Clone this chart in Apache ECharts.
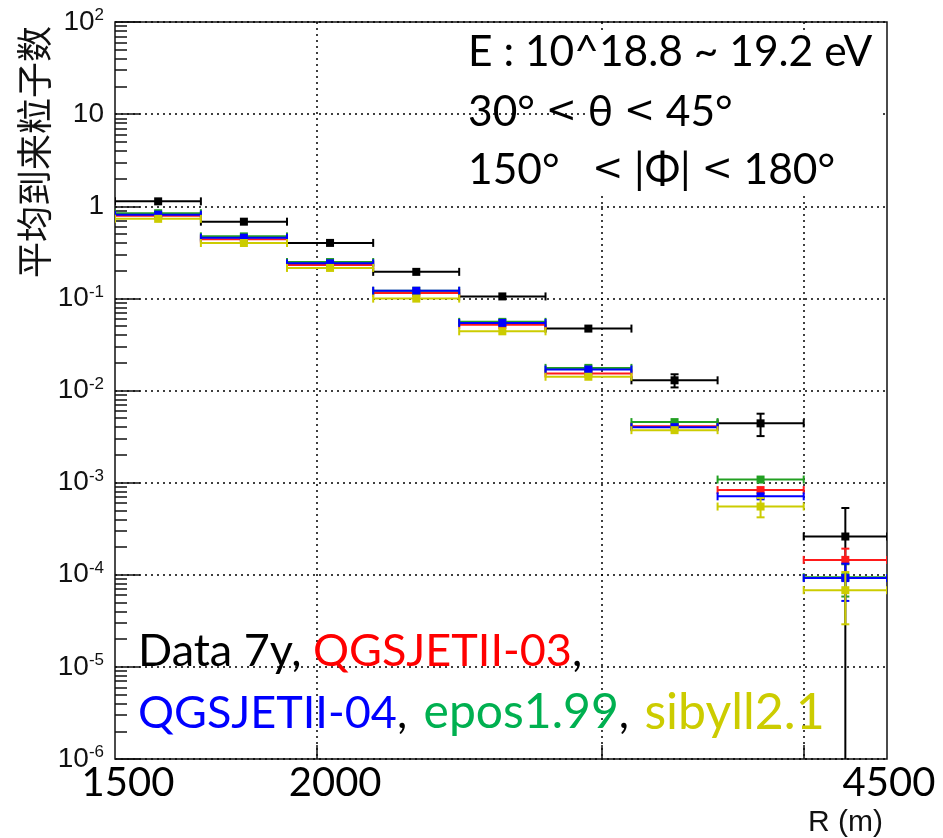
<!DOCTYPE html>
<html><head><meta charset="utf-8">
<script src="https://cdn.jsdelivr.net/npm/echarts@6/dist/echarts.min.js"></script>
<style>html,body{margin:0;padding:0;background:#fff}#c{width:943px;height:838px}</style>
</head><body><div id="c"></div>
<script>
// ---- data ----
const binLow    = [1500, 1695, 1916, 2166, 2448, 2768, 3128, 3536, 3997];
const binHigh   = [1695, 1916, 2166, 2448, 2768, 3128, 3536, 3997, 4500];
const binCenter = [1595, 1802, 2037, 2303, 2603, 2942, 3326, 3759, 4241];

const data7y     = [1.13, 0.68, 0.40, 0.194, 0.105, 0.047, 0.0129, 0.0044, 0.00026];
const data7yErr  = [0.04, 0.02, 0.012, 0.006, 0.004, 0.0025, 0.0021, 0.0012, 0.00027];

const qgs03      = [0.79, 0.437, 0.231, 0.1145, 0.0516, 0.0153, 0.0041, 0.00083, 0.000145];
const qgs03Err   = [0.01, 0.006, 0.004, 0.002, 0.001, 0.0004, 0.0001, 0.00003, 0.000047];
const qgs04      = [0.81, 0.456, 0.240, 0.121, 0.0542, 0.0169, 0.0040, 0.00071, 0.000092];
const qgs04Err   = [0.01, 0.006, 0.004, 0.002, 0.001, 0.0004, 0.0001, 0.00003, 0.00004];
const epos       = [0.84, 0.471, 0.248, 0.121, 0.0556, 0.0176, 0.00454, 0.00108, 0.000094];
const eposErr    = [0.01, 0.006, 0.004, 0.002, 0.001, 0.0004, 0.0001, 0.00003, 0.000036];
const sibyll     = [0.73, 0.399, 0.214, 0.0994, 0.0439, 0.0141, 0.00371, 0.00055, 0.000068];
const sibyllErr  = [0.01, 0.006, 0.004, 0.002, 0.001, 0.0004, 0.0002, 0.00013, 0.000039];

const xTickValues  = [2000, 3000, 4000];
const xLabelValues = [1500, 2000, 4500];
const yMajorTicks  = [1e-6, 1e-5, 1e-4, 1e-3, 1e-2, 1e-1, 1, 10, 100];
const yMinorMult   = [2, 3, 4, 5, 6, 7, 8, 9];

const seriesDefs = [
  {name: 'Data 7y',     color: '#000000', vals: data7y, errs: data7yErr},
  {name: 'QGSJETII-03', color: '#ff1a1a', vals: qgs03,  errs: qgs03Err},
  {name: 'epos1.99',    color: '#22a022', vals: epos,   errs: eposErr},
  {name: 'QGSJETII-04', color: '#0000ff', vals: qgs04,  errs: qgs04Err},
  {name: 'sibyll2.1',   color: '#cccc00', vals: sibyll, errs: sibyllErr}
];

const yMinorTicks = [];
for (let i = 0; i < yMajorTicks.length - 1; i++) {
  yMinorMult.forEach(m => yMinorTicks.push(+(yMajorTicks[i] * m).toPrecision(3)));
}

function renderErr(color) {
  return function (params, api) {
    const xc = api.value(0), y = api.value(1), xl = api.value(2), xh = api.value(3), e = api.value(4);
    const p = api.coord([xc, y]);
    const l = api.coord([xl, y]);
    const h = api.coord([xh, y]);
    const up = api.coord([xc, y + e]);
    const lowV = (y - e) > 0 ? (y - e) : 1e-12;
    const dn = api.coord([xc, lowV]);
    const st = {stroke: color, lineWidth: 2};
    const ch = [];
    const cap = 4, ms = 4;
    ch.push({type: 'line', shape: {x1: l[0], y1: p[1], x2: h[0], y2: p[1]}, style: st});
    ch.push({type: 'line', shape: {x1: l[0], y1: p[1] - cap, x2: l[0], y2: p[1] + cap}, style: st});
    ch.push({type: 'line', shape: {x1: h[0], y1: p[1] - cap, x2: h[0], y2: p[1] + cap}, style: st});
    if (p[1] - up[1] > ms + 1) {
      ch.push({type: 'line', shape: {x1: p[0], y1: p[1], x2: p[0], y2: up[1]}, style: st});
      ch.push({type: 'line', shape: {x1: p[0] - cap, y1: up[1], x2: p[0] + cap, y2: up[1]}, style: st});
    }
    if (dn[1] - p[1] > ms + 1) {
      ch.push({type: 'line', shape: {x1: p[0], y1: p[1], x2: p[0], y2: dn[1]}, style: st});
      if (y - e > 0) ch.push({type: 'line', shape: {x1: p[0] - cap, y1: dn[1], x2: p[0] + cap, y2: dn[1]}, style: st});
    }
    ch.push({type: 'rect', shape: {x: p[0] - ms, y: p[1] - ms, width: 2 * ms, height: 2 * ms}, style: {fill: color}});
    return {type: 'group', children: ch};
  };
}

const series = seriesDefs.map(d => ({
  type: 'custom',
  name: d.name,
  clip: true,
  renderItem: renderErr(d.color),
  dimensions: ['x', 'y', 'xl', 'xh', 'e'],
  encode: {x: 0, y: 1},
  data: binCenter.map((c, i) => [c, d.vals[i], binLow[i], binHigh[i], d.errs[i]]),
  z: 5
}));

const xPad = {1500: 26, 2000: 36, 4500: 4};
const ann = {fontFamily: 'Lato', fontSize: 42.5, lineHeight: 50, fill: '#000'};
const lt = {fontFamily: 'DejaVu Sans', fontSize: 37, lineHeight: 50, fill: '#000'};

const chart = echarts.init(document.getElementById('c'), null, {renderer: 'canvas'});
chart.setOption({
  animation: false,
  backgroundColor: '#ffffff',
  grid: {left: 115, top: 22, right: 56, bottom: 78, show: true, borderColor: '#111', borderWidth: 1.5, backgroundColor: 'transparent'},
  xAxis: [{
    type: 'log', logBase: 10, min: 1500, max: 4500,
    axisLine: {show: false},
    axisTick: {show: true, inside: true, length: 14, customValues: xTickValues, lineStyle: {color: '#111', width: 1.5}},
    splitLine: {show: true, customValues: xTickValues, lineStyle: {color: '#000', type: [2, 4], width: 1.5}},
    minorTick: {show: false},
    axisLabel: {
      show: true, customValues: xLabelValues, margin: 4,
      formatter: v => '{p' + Math.round(v) + '|' + Math.round(v) + '}',
      rich: {
        p1500: {fontFamily: 'Lato', fontSize: 40, color: '#000', padding: [0, 0, 0, xPad[1500]]},
        p2000: {fontFamily: 'Lato', fontSize: 40, color: '#000', padding: [0, 0, 0, xPad[2000]]},
        p4500: {fontFamily: 'Lato', fontSize: 40, color: '#000', padding: [0, 0, 0, xPad[4500]]}
      }
    },
    name: 'R (m)', nameLocation: 'end', nameGap: -4,
    nameTextStyle: {fontFamily: 'Liberation Sans Narrow, Liberation Sans', fontSize: 30, color: '#111', align: 'right', verticalAlign: 'top', padding: [49, 0, 0, 0]}
  }],
  yAxis: [{
    type: 'log', logBase: 10, min: 1e-6, max: 100, splitNumber: 8,
    axisLine: {show: false},
    axisTick: {show: true, inside: true, length: 25, lineStyle: {color: '#111', width: 1.5}},
    splitLine: {show: true, lineStyle: {color: '#000', type: [2, 4], width: 1.5}},
    axisLabel: {
      margin: 11, color: '#111', fontFamily: 'Liberation Sans', fontSize: 28,
      formatter: function (v) {
        const e = Math.round(Math.log10(v));
        if (e === 0) return '{b|1}';
        if (e === 1) return '{b|10}';
        return '{b|10}{s|' + e + '}';
      },
      rich: {
        b: {fontFamily: 'Liberation Sans', fontSize: 28, lineHeight: 30, color: '#111'},
        s: {fontFamily: 'Liberation Sans', fontSize: 17, lineHeight: 20, verticalAlign: 'top', color: '#111'}
      }
    }
  }, {
    type: 'log', logBase: 10, min: 1e-6, max: 100, position: 'left',
    axisLine: {show: false},
    axisLabel: {show: false},
    splitLine: {show: false},
    axisTick: {show: true, inside: true, length: 12, customValues: yMinorTicks, lineStyle: {color: '#111', width: 1.5}}
  }],
  series: series,
  graphic: [
    {type: 'rect', z: 3, shape: {x: 589, y: 33, width: 294, height: 162}, style: {fill: '#ffffff'}},
    {type: 'text', z: 10, x: 468, y: 52, style: {text: 'E : 10^18.8 ~ 19.2 eV', fontFamily: 'Lato', fontSize: 42.5, fill: '#000', textVerticalAlign: 'middle'}},
    {type: 'text', z: 10, x: 468, y: 112, style: {
      text: '{a|30° }{l|<}{a| θ }{l|<}{a| 45°}', textVerticalAlign: 'middle',
      rich: {a: ann, l: lt}}},
    {type: 'text', z: 10, x: 468, y: 170, style: {
      text: '{a|150°   }{l|<}{a| |Φ| }{l|<}{a| 180°}', textVerticalAlign: 'middle',
      rich: {a: ann, l: lt}}},
    {type: 'text', z: 10, x: 34, y: 152, rotation: Math.PI / 2,
      style: {text: '平均到来粒子数', fontFamily: 'Noto Sans CJK SC', fontSize: 36, fill: '#111', textAlign: 'center', textVerticalAlign: 'middle'}},
    {type: 'text', z: 10, x: 138, y: 620,
      style: {
        text: '{k|Data 7y, }{r|QGSJETII-03}{k|,}\n{b|QGSJETII-04}{k|, }{g|epos1.99}{k|, }{y|sibyll2.1}',
        fontFamily: 'Lato', fontSize: 45, lineHeight: 62,
        rich: {
          k: {fill: '#000', fontFamily: 'Lato', fontSize: 45, lineHeight: 62},
          r: {fill: '#ff0000', fontFamily: 'Lato', fontSize: 45, lineHeight: 62},
          b: {fill: '#0000ff', fontFamily: 'Lato', fontSize: 45, lineHeight: 62},
          g: {fill: '#00b050', fontFamily: 'Lato', fontSize: 48, lineHeight: 62, padding: [0, 0, 0, 5]},
          y: {fill: '#cccc00', fontFamily: 'Lato', fontSize: 50, lineHeight: 62, padding: [0, 0, 0, 4]}
        }
      }}
  ]
});
</script>
</body></html>
